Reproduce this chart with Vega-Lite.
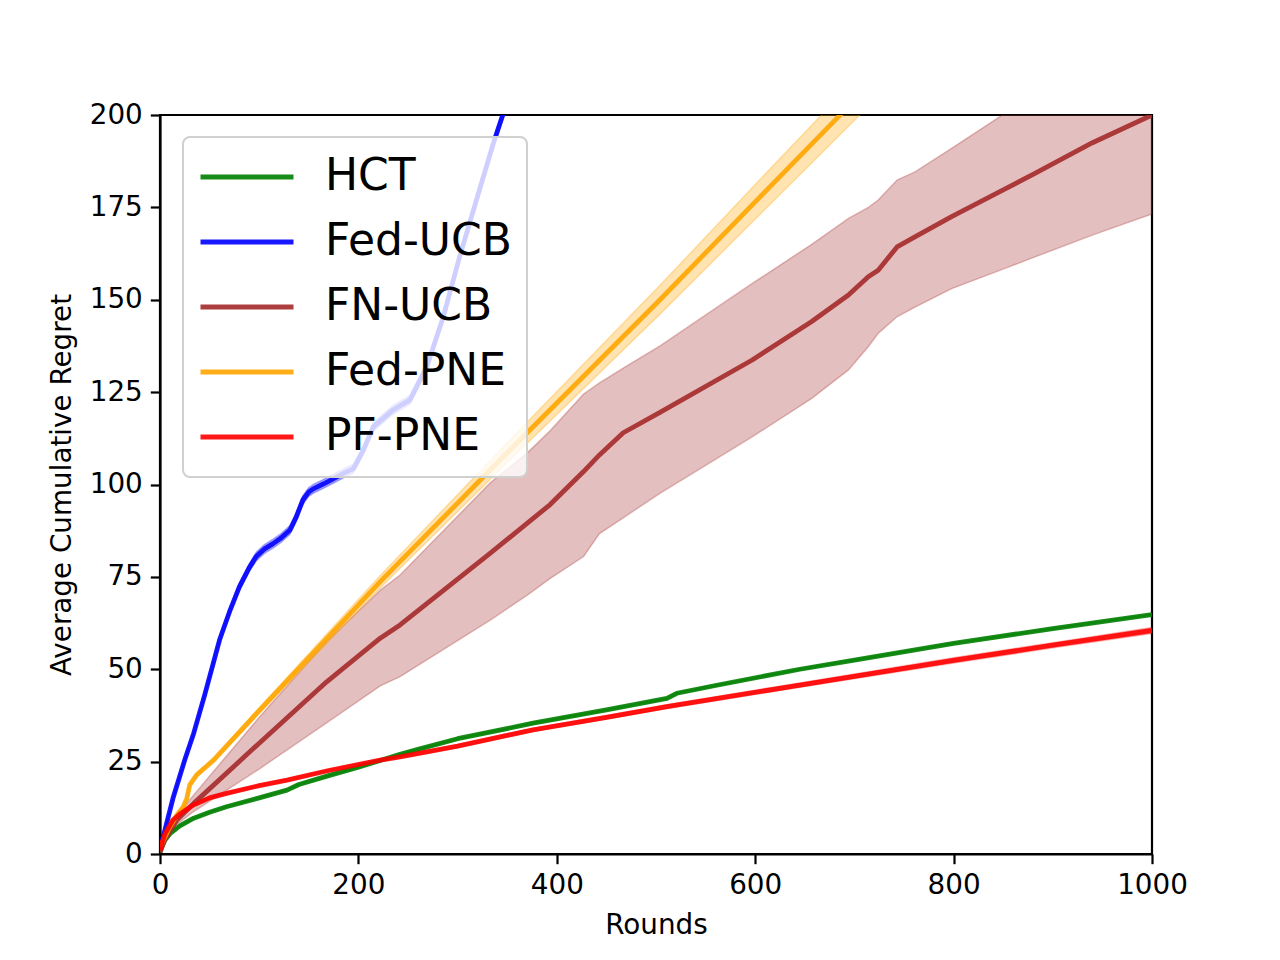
{
  "$schema": "https://vega.github.io/schema/vega-lite/v6.json",
  "width": 992,
  "height": 739,
  "autosize": "none",
  "padding": {"left": 160, "top": 115, "right": 128, "bottom": 106},
  "background": "white",
  "config": {
    "view": {"stroke": "black", "strokeWidth": 2.2},
    "font": "DejaVu Sans",
    "legend": {"strokeWidth": 2},
    "axis": {
      "grid": false,
      "labelFlush": false,
      "labelFont": "DejaVu Sans",
      "labelFontSize": 27.8,
      "labelColor": "black",
      "titleFont": "DejaVu Sans",
      "titleFontSize": 27.8,
      "titleFontWeight": "normal",
      "titleColor": "black",
      "tickColor": "black",
      "tickSize": 9.7,
      "tickWidth": 2.2,
      "domainColor": "black",
      "domainWidth": 2.2,
      "labelPadding": 8
    }
  },
  "data": {
    "values": [
      {"s": "HCT", "x": 0, "y": 0.5, "lo": 0.3, "hi": 0.7},
      {"s": "HCT", "x": 2, "y": 2, "lo": 1.8, "hi": 2.2},
      {"s": "HCT", "x": 5, "y": 3.8, "lo": 3.6, "hi": 4},
      {"s": "HCT", "x": 10, "y": 5.5, "lo": 5.3, "hi": 5.7},
      {"s": "HCT", "x": 20, "y": 7.6, "lo": 7.4, "hi": 7.8},
      {"s": "HCT", "x": 34, "y": 9.7, "lo": 9.5, "hi": 9.9},
      {"s": "HCT", "x": 50, "y": 11.3, "lo": 11.1, "hi": 11.5},
      {"s": "HCT", "x": 67, "y": 12.8, "lo": 12.6, "hi": 13},
      {"s": "HCT", "x": 100, "y": 15.2, "lo": 15, "hi": 15.4},
      {"s": "HCT", "x": 128, "y": 17.3, "lo": 17.1, "hi": 17.5},
      {"s": "HCT", "x": 140, "y": 18.8, "lo": 18.6, "hi": 19},
      {"s": "HCT", "x": 170, "y": 21.2, "lo": 21, "hi": 21.4},
      {"s": "HCT", "x": 200, "y": 23.5, "lo": 23.3, "hi": 23.7},
      {"s": "HCT", "x": 222, "y": 25.3, "lo": 25.1, "hi": 25.5},
      {"s": "HCT", "x": 242, "y": 27, "lo": 26.8, "hi": 27.2},
      {"s": "HCT", "x": 260, "y": 28.3, "lo": 28.1, "hi": 28.5},
      {"s": "HCT", "x": 300, "y": 31.2, "lo": 31, "hi": 31.4},
      {"s": "HCT", "x": 376, "y": 35.4, "lo": 35.2, "hi": 35.6},
      {"s": "HCT", "x": 450, "y": 39, "lo": 38.8, "hi": 39.2},
      {"s": "HCT", "x": 511, "y": 42.1, "lo": 41.9, "hi": 42.3},
      {"s": "HCT", "x": 521, "y": 43.5, "lo": 43.3, "hi": 43.7},
      {"s": "HCT", "x": 560, "y": 45.6, "lo": 45.4, "hi": 45.8},
      {"s": "HCT", "x": 645, "y": 50, "lo": 49.8, "hi": 50.2},
      {"s": "HCT", "x": 700, "y": 52.5, "lo": 52.3, "hi": 52.7},
      {"s": "HCT", "x": 800, "y": 57, "lo": 56.8, "hi": 57.2},
      {"s": "HCT", "x": 900, "y": 61, "lo": 60.8, "hi": 61.2},
      {"s": "HCT", "x": 1000, "y": 64.8, "lo": 64.6, "hi": 65},

      {"s": "Fed-UCB", "x": 0, "y": 2, "lo": 1.5, "hi": 2.5},
      {"s": "Fed-UCB", "x": 2, "y": 3.5, "lo": 3, "hi": 4},
      {"s": "Fed-UCB", "x": 5, "y": 6.5, "lo": 6, "hi": 7},
      {"s": "Fed-UCB", "x": 13, "y": 15, "lo": 14.4, "hi": 15.6},
      {"s": "Fed-UCB", "x": 25, "y": 25.5, "lo": 24.8, "hi": 26.2},
      {"s": "Fed-UCB", "x": 34, "y": 32.7, "lo": 32, "hi": 33.4},
      {"s": "Fed-UCB", "x": 45, "y": 43, "lo": 42.2, "hi": 43.8},
      {"s": "Fed-UCB", "x": 60, "y": 57.9, "lo": 57, "hi": 58.8},
      {"s": "Fed-UCB", "x": 70, "y": 65.5, "lo": 64.6, "hi": 66.4},
      {"s": "Fed-UCB", "x": 80, "y": 72.3, "lo": 71.3, "hi": 73.3},
      {"s": "Fed-UCB", "x": 90, "y": 77.5, "lo": 76.5, "hi": 78.5},
      {"s": "Fed-UCB", "x": 97, "y": 80.5, "lo": 79.3, "hi": 81.7},
      {"s": "Fed-UCB", "x": 105, "y": 82.5, "lo": 81.3, "hi": 83.7},
      {"s": "Fed-UCB", "x": 114, "y": 84, "lo": 82.8, "hi": 85.2},
      {"s": "Fed-UCB", "x": 122, "y": 85.5, "lo": 84.3, "hi": 86.7},
      {"s": "Fed-UCB", "x": 131, "y": 87.7, "lo": 86.5, "hi": 88.9},
      {"s": "Fed-UCB", "x": 137, "y": 91, "lo": 89.8, "hi": 92.2},
      {"s": "Fed-UCB", "x": 144, "y": 95.8, "lo": 94.6, "hi": 97},
      {"s": "Fed-UCB", "x": 150, "y": 98, "lo": 96.8, "hi": 99.2},
      {"s": "Fed-UCB", "x": 155, "y": 98.9, "lo": 97.7, "hi": 100.1},
      {"s": "Fed-UCB", "x": 165, "y": 100.2, "lo": 99, "hi": 101.4},
      {"s": "Fed-UCB", "x": 175, "y": 101.6, "lo": 100.4, "hi": 102.8},
      {"s": "Fed-UCB", "x": 185, "y": 103, "lo": 101.8, "hi": 104.2},
      {"s": "Fed-UCB", "x": 195, "y": 104.3, "lo": 103.1, "hi": 105.5},
      {"s": "Fed-UCB", "x": 205, "y": 109.3, "lo": 108.1, "hi": 110.5},
      {"s": "Fed-UCB", "x": 215, "y": 115.6, "lo": 114.4, "hi": 116.8},
      {"s": "Fed-UCB", "x": 235, "y": 120.2, "lo": 119, "hi": 121.4},
      {"s": "Fed-UCB", "x": 252, "y": 122.9, "lo": 121.7, "hi": 124.1},
      {"s": "Fed-UCB", "x": 269, "y": 131.9, "lo": 130.7, "hi": 133.1},
      {"s": "Fed-UCB", "x": 285.6, "y": 145.4, "lo": 144.2, "hi": 146.6},
      {"s": "Fed-UCB", "x": 302, "y": 161.6, "lo": 160.4, "hi": 162.8},
      {"s": "Fed-UCB", "x": 319, "y": 177, "lo": 175.8, "hi": 178.2},
      {"s": "Fed-UCB", "x": 336, "y": 192.3, "lo": 191.1, "hi": 193.5},
      {"s": "Fed-UCB", "x": 346, "y": 200.4, "lo": 199.2, "hi": 201.6},
      {"s": "Fed-UCB", "x": 360, "y": 214, "lo": 212.8, "hi": 215.2},

      {"s": "FN-UCB", "x": 0, "y": 0.5, "lo": 0.3, "hi": 0.7},
      {"s": "FN-UCB", "x": 5, "y": 4, "lo": 3.5, "hi": 4.5},
      {"s": "FN-UCB", "x": 17, "y": 9.2, "lo": 8, "hi": 10.4},
      {"s": "FN-UCB", "x": 34, "y": 13.7, "lo": 11.5, "hi": 16},
      {"s": "FN-UCB", "x": 100, "y": 30, "lo": 23, "hi": 37},
      {"s": "FN-UCB", "x": 168, "y": 46.6, "lo": 35.5, "hi": 57.5},
      {"s": "FN-UCB", "x": 222, "y": 58.4, "lo": 45.5, "hi": 71.4},
      {"s": "FN-UCB", "x": 242, "y": 62, "lo": 48, "hi": 75.5},
      {"s": "FN-UCB", "x": 333, "y": 81.4, "lo": 63.3, "hi": 100.5},
      {"s": "FN-UCB", "x": 370, "y": 89.5, "lo": 70, "hi": 108.5},
      {"s": "FN-UCB", "x": 393, "y": 94.5, "lo": 74.5, "hi": 114.5},
      {"s": "FN-UCB", "x": 427, "y": 103.5, "lo": 80.5, "hi": 124.5},
      {"s": "FN-UCB", "x": 443, "y": 108, "lo": 86.7, "hi": 127.5},
      {"s": "FN-UCB", "x": 467, "y": 114, "lo": 91, "hi": 131.5},
      {"s": "FN-UCB", "x": 504, "y": 119.5, "lo": 97.6, "hi": 137.5},
      {"s": "FN-UCB", "x": 597, "y": 133.7, "lo": 112.9, "hi": 154.4},
      {"s": "FN-UCB", "x": 657, "y": 144.1, "lo": 123.3, "hi": 165},
      {"s": "FN-UCB", "x": 694, "y": 151.3, "lo": 131, "hi": 172},
      {"s": "FN-UCB", "x": 714, "y": 156.2, "lo": 137.3, "hi": 175},
      {"s": "FN-UCB", "x": 724, "y": 158, "lo": 140.9, "hi": 177},
      {"s": "FN-UCB", "x": 743, "y": 164.3, "lo": 145.4, "hi": 182.4},
      {"s": "FN-UCB", "x": 761, "y": 167, "lo": 148, "hi": 184.6},
      {"s": "FN-UCB", "x": 798, "y": 172.5, "lo": 153, "hi": 191},
      {"s": "FN-UCB", "x": 852, "y": 180, "lo": 158.5, "hi": 200.5},
      {"s": "FN-UCB", "x": 882, "y": 184.2, "lo": 161.6, "hi": 206.8},
      {"s": "FN-UCB", "x": 940, "y": 192.5, "lo": 167.5, "hi": 217.5},
      {"s": "FN-UCB", "x": 1000, "y": 200, "lo": 173.2, "hi": 226.8},

      {"s": "Fed-PNE", "x": 0, "y": 2, "lo": 1.8, "hi": 2.2},
      {"s": "Fed-PNE", "x": 3, "y": 3.5, "lo": 3.3, "hi": 3.7},
      {"s": "Fed-PNE", "x": 10, "y": 7.4, "lo": 7.1, "hi": 7.7},
      {"s": "Fed-PNE", "x": 17, "y": 10.5, "lo": 10.2, "hi": 10.8},
      {"s": "Fed-PNE", "x": 23.5, "y": 12.8, "lo": 12.5, "hi": 13.1},
      {"s": "Fed-PNE", "x": 27, "y": 15, "lo": 14.7, "hi": 15.3},
      {"s": "Fed-PNE", "x": 30, "y": 18.7, "lo": 18.4, "hi": 19},
      {"s": "Fed-PNE", "x": 37, "y": 21.4, "lo": 21.1, "hi": 21.7},
      {"s": "Fed-PNE", "x": 54, "y": 25.4, "lo": 25, "hi": 25.8},
      {"s": "Fed-PNE", "x": 100, "y": 38.8, "lo": 38, "hi": 39.6},
      {"s": "Fed-PNE", "x": 222, "y": 73.7, "lo": 72, "hi": 75.4},
      {"s": "Fed-PNE", "x": 350, "y": 108.6, "lo": 105.9, "hi": 111.3},
      {"s": "Fed-PNE", "x": 504, "y": 150, "lo": 146.1, "hi": 153.9},
      {"s": "Fed-PNE", "x": 600, "y": 176.5, "lo": 171.8, "hi": 181.2},
      {"s": "Fed-PNE", "x": 682, "y": 199, "lo": 193.7, "hi": 204.3},
      {"s": "Fed-PNE", "x": 720, "y": 209.5, "lo": 203.9, "hi": 215.1},
      {"s": "Fed-PNE", "x": 760, "y": 220.5, "lo": 214.6, "hi": 226.4},

      {"s": "PF-PNE", "x": 0, "y": 1, "lo": 0.8, "hi": 1.2},
      {"s": "PF-PNE", "x": 2, "y": 3, "lo": 2.8, "hi": 3.2},
      {"s": "PF-PNE", "x": 5, "y": 5.5, "lo": 5.2, "hi": 5.8},
      {"s": "PF-PNE", "x": 13, "y": 9.2, "lo": 8.9, "hi": 9.5},
      {"s": "PF-PNE", "x": 20, "y": 10.8, "lo": 10.5, "hi": 11.1},
      {"s": "PF-PNE", "x": 34, "y": 13.3, "lo": 13, "hi": 13.6},
      {"s": "PF-PNE", "x": 50, "y": 15.2, "lo": 14.9, "hi": 15.5},
      {"s": "PF-PNE", "x": 67, "y": 16.4, "lo": 16.1, "hi": 16.7},
      {"s": "PF-PNE", "x": 100, "y": 18.5, "lo": 18.2, "hi": 18.8},
      {"s": "PF-PNE", "x": 128, "y": 20, "lo": 19.7, "hi": 20.3},
      {"s": "PF-PNE", "x": 170, "y": 22.6, "lo": 22.3, "hi": 22.9},
      {"s": "PF-PNE", "x": 222, "y": 25.4, "lo": 25.1, "hi": 25.7},
      {"s": "PF-PNE", "x": 242, "y": 26.3, "lo": 26, "hi": 26.6},
      {"s": "PF-PNE", "x": 300, "y": 29.2, "lo": 28.8, "hi": 29.6},
      {"s": "PF-PNE", "x": 376, "y": 33.6, "lo": 33.2, "hi": 34},
      {"s": "PF-PNE", "x": 450, "y": 37, "lo": 36.5, "hi": 37.5},
      {"s": "PF-PNE", "x": 511, "y": 39.9, "lo": 39.4, "hi": 40.4},
      {"s": "PF-PNE", "x": 645, "y": 45.7, "lo": 45.1, "hi": 46.3},
      {"s": "PF-PNE", "x": 800, "y": 52.4, "lo": 51.7, "hi": 53.1},
      {"s": "PF-PNE", "x": 900, "y": 56.5, "lo": 55.8, "hi": 57.2},
      {"s": "PF-PNE", "x": 1000, "y": 60.5, "lo": 59.7, "hi": 61.3}
    ]
  },
  "layer": [
    {
      "mark": {"type": "area", "clip": true, "fillOpacity": 0.3, "strokeOpacity": 0.3, "strokeWidth": 1.5},
      "encoding": {
        "x": {"field": "x", "type": "quantitative"},
        "y": {"field": "lo", "type": "quantitative"},
        "y2": {"field": "hi"},
        "detail": {"field": "s"},
        "fill": {
          "field": "s", "type": "nominal", "legend": null,
          "scale": {"domain": ["PF-PNE", "Fed-PNE", "FN-UCB", "Fed-UCB", "HCT"], "range": ["#ff0000", "#ffa500", "#a52a2a", "#0000ff", "#008000"]}
        },
        "stroke": {
          "field": "s", "type": "nominal", "legend": null,
          "scale": {"domain": ["PF-PNE", "Fed-PNE", "FN-UCB", "Fed-UCB", "HCT"], "range": ["#ff0000", "#ffa500", "#a52a2a", "#0000ff", "#008000"]}
        }
      }
    },
    {
      "mark": {"type": "line", "clip": true, "strokeWidth": 4.8, "opacity": 0.9, "strokeJoin": "round"},
      "encoding": {
        "x": {
          "field": "x", "type": "quantitative", "title": "Rounds",
          "scale": {"domain": [0, 1000], "nice": false, "zero": false},
          "axis": {"values": [0, 200, 400, 600, 800, 1000], "format": "d", "titlePadding": 12}
        },
        "y": {
          "field": "y", "type": "quantitative", "title": "Average Cumulative Regret",
          "scale": {"domain": [0, 200], "nice": false},
          "axis": {"values": [0, 25, 50, 75, 100, 125, 150, 175, 200], "format": "d", "titlePadding": 13}
        },
        "color": {
          "field": "s", "type": "nominal", "title": null,
          "scale": {"domain": ["HCT", "Fed-UCB", "FN-UCB", "Fed-PNE", "PF-PNE"], "range": ["#008000", "#0000ff", "#a52a2a", "#ffa500", "#ff0000"]},
          "legend": {
            "orient": "none",
            "legendX": 23,
            "legendY": 22,
            "fillColor": "rgba(255,255,255,0.8)",
            "strokeColor": "#d0d0d0",
            "cornerRadius": 7,
            "padding": 15,
            "symbolType": "stroke",
            "symbolSize": 8649,
            "symbolStrokeWidth": 4.8,
            "symbolOpacity": 0.9,
            "clipHeight": 50,
            "rowPadding": 15,
            "labelOffset": 29,
            "labelFont": "DejaVu Sans",
            "labelFontSize": 44,
            "labelColor": "black",
            "labelLimit": 500
          }
        }
      }
    }
  ]
}
